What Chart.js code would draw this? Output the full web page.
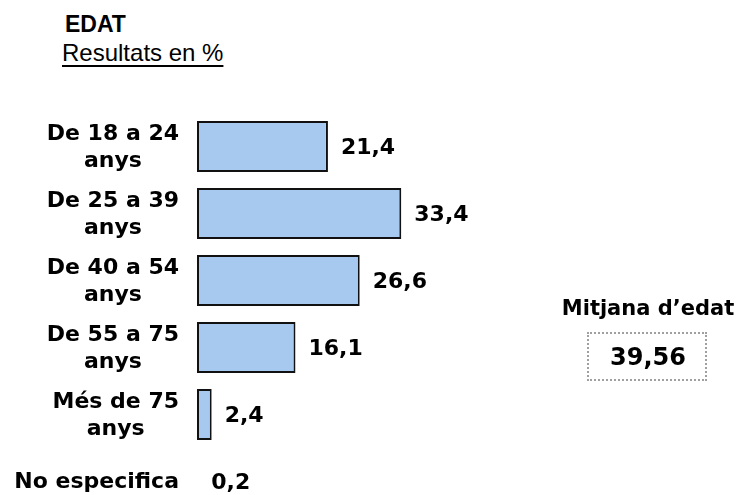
<!DOCTYPE html>
<html>
<head>
<meta charset="utf-8">
<script src="https://cdn.jsdelivr.net/npm/chart.js@4.4.0/dist/chart.umd.js"></script>
<style>
  html, body { margin: 0; padding: 0; background: #fff; overflow: hidden; }
  body { width: 740px; height: 495px; position: relative; }
  #edatChart { position: absolute; left: 0; top: 0; }
  .title { position: absolute; left: 65px; top: 11px; font: bold 23px "Liberation Sans", Arial, sans-serif; color: #000; }
  .sub { position: absolute; left: 62px; top: 39px; font: 24px "Liberation Sans", Arial, sans-serif; color: #000; text-decoration: underline; text-underline-offset: 4px; }
  .meanLbl { position: absolute; left: 548px; top: 296px; width: 200px; text-align: center; font: bold 21px "DejaVu Sans", Verdana, sans-serif; }
  .meanBox { position: absolute; left: 587px; top: 332px; width: 120px; height: 49px; border: 2px dotted #a0a0a0; box-sizing: border-box;
             font: bold 24px "DejaVu Sans", Verdana, sans-serif; display: flex; align-items: center; justify-content: center; padding-left: 2px; }
</style>
</head>
<body>
<div class="title">EDAT</div>
<div class="sub">Resultats en %</div>
<canvas id="edatChart" width="740" height="540"></canvas>
<div class="meanLbl">Mitjana d’edat</div>
<div class="meanBox">39,56</div>
<script>
// Age groups and shares (%)
const categories = [
    ['De 18 a 24', 'anys'],
    ['De 25 a 39', 'anys'],
    ['De 40 a 54', 'anys'],
    ['De 55 a 75', 'anys'],
    ['Més de 75', 'anys'],
    ['No especifica']
];
const values = [21.4, 33.4, 26.6, 16.1, 2.4, 0.2];
const valueLabels = ['21,4', '33,4', '26,6', '16,1', '2,4', '0,2'];

const labelFont = 'bold 22px "DejaVu Sans", Verdana, sans-serif';

// category names (lines centred inside a right-aligned block) and values next to bars
const textPlugin = {
    id: 'edatText',
    afterDatasetsDraw(chart) {
        const ctx = chart.ctx;
        const yScale = chart.scales.y;
        const meta = chart.getDatasetMeta(0);
        ctx.save();
        ctx.font = labelFont;
        ctx.fillStyle = '#000';
        ctx.textBaseline = 'middle';

        categories.forEach(function(lines, i) {
            const cy = yScale.getPixelForValue(i);
            const widest = Math.max.apply(null, lines.map(function(l) { return ctx.measureText(l).width; }));
            const cx = 179 - widest / 2;
            const lh = 27;
            ctx.textAlign = 'center';
            lines.forEach(function(l, j) {
                ctx.fillText(l, cx, cy + 1 + (j - (lines.length - 1) / 2) * lh);
            });
        });

        ctx.textAlign = 'left';
        meta.data.forEach(function(bar, i) {
            ctx.fillText(valueLabels[i], bar.x + 13, bar.y + 2);
        });
        ctx.restore();
    }
};

new Chart(document.getElementById('edatChart'), {
    type: 'bar',
    data: {
        labels: categories,
        datasets: [{
            data: values,
            backgroundColor: ['#a7c9ef', '#a7c9ef', '#a7c9ef', '#a7c9ef', '#a7c9ef', 'rgba(0,0,0,0)'],
            borderColor: '#111',
            borderWidth: [2, 2, 2, 2, 2, 0],
            borderSkipped: false,
            barPercentage: 0.76,
            categoryPercentage: 1
        }]
    },
    options: {
        indexAxis: 'y',
        responsive: false,
        animation: false,
        layout: { padding: { left: 197, right: 176, top: 113, bottom: 25 } },
        plugins: {
            legend: { display: false },
            tooltip: { enabled: false }
        },
        scales: {
            x: { display: false, min: 0, max: 60 },
            y: { display: false }
        }
    },
    plugins: [textPlugin]
});
</script>
</body>
</html>
